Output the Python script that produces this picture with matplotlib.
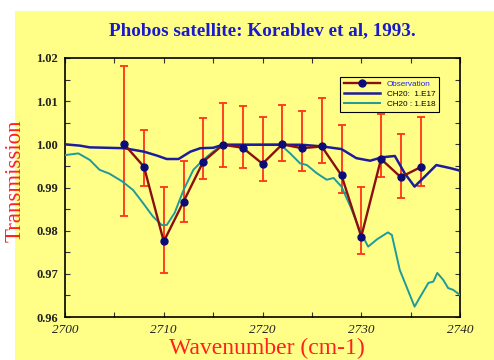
import matplotlib
matplotlib.use("Agg")
import matplotlib.pyplot as plt
from matplotlib.patches import Rectangle
from matplotlib.ticker import MultipleLocator

# Observed transmission (Phobos, Korablev et al. 1993)
obs_wavenumber = [2706, 2708, 2710, 2712, 2714, 2716, 2718, 2720,
                  2722, 2724, 2726, 2728, 2730, 2732, 2734, 2736]
obs_transmission = [1.0000, 0.9948, 0.9775, 0.9867, 0.9960, 0.9999, 0.9992, 0.9955,
                    1.0000, 0.9991, 0.9995, 0.9928, 0.9786, 0.9966, 0.9924, 0.9947]
obs_upper = [1.0182, 1.0033, 0.9902, 0.9962, 1.0062, 1.0095, 1.0089, 1.0063,
             1.0091, 1.0077, 1.0108, 1.0045, 0.9902, 1.0070, 1.0024, 1.0063]
obs_lower = [0.9833, 0.9904, 0.9703, 0.9820, 0.9919, 0.9947, 0.9945, 0.9914,
             0.9962, 0.9939, 0.9956, 0.9888, 0.9746, 0.9924, 0.9875, 0.9904]

# Model spectrum, CH2O column 1.E17
m17_wavenumber = [2700, 2701.5, 2702.5, 2706, 2708, 2709.3, 2710.3, 2711.5, 2712.7,
                  2713.7, 2715, 2716, 2720, 2724, 2726.1, 2728, 2729.5, 2730.9,
                  2732.1, 2733.4, 2734.4, 2735.4, 2736.6, 2737.6, 2739, 2740]
m17_transmission = [1.0000, 0.9997, 0.9993, 0.9991, 0.9983, 0.9974, 0.9966, 0.9966, 0.9983,
                    0.9991, 0.9992, 0.9999, 0.9999, 0.9999, 0.9995, 0.9989, 0.9968, 0.9962,
                    0.9970, 0.9973, 0.9933, 0.9902, 0.9929, 0.9952, 0.9945, 0.9939]

# Model spectrum, CH2O column 1.E18
m18_wavenumber = [2700, 2701.35, 2702.5, 2703.5, 2704.5, 2705.8, 2706.9, 2707.9, 2708.9,
                  2709.8, 2710.3, 2711.1, 2712.0, 2713.0, 2714.0, 2715.0, 2716.0, 2721.8,
                  2722.8, 2723.8, 2724.5, 2725.5, 2726.5, 2727.2, 2728.0, 2728.9, 2729.9,
                  2730.7, 2731.6, 2732.7, 2733.1, 2733.9, 2735.4, 2735.9, 2736.8, 2737.3,
                  2737.7, 2738.3, 2738.8, 2739.3, 2740]
m18_transmission = [0.9975, 0.9979, 0.9964, 0.9941, 0.9932, 0.9914, 0.9894, 0.9864, 0.9833,
                    0.9813, 0.9813, 0.9841, 0.9894, 0.9941, 0.9964, 0.9983, 0.9999, 1.0000,
                    0.9979, 0.9956, 0.9952, 0.9933, 0.9918, 0.9922, 0.9902, 0.9856, 0.9798,
                    0.9763, 0.9780, 0.9796, 0.9790, 0.9709, 0.9624, 0.9644, 0.9679, 0.9682,
                    0.9702, 0.9686, 0.9667, 0.9663, 0.9651]

x_ticks = [2700, 2710, 2720, 2730, 2740]
y_ticks = [0.96, 0.97, 0.98, 0.99, 1.00, 1.01, 1.02]

BG = "#ffff88"
SERIF = "Liberation Serif"

fig = plt.figure(figsize=(4.94, 3.60), dpi=100, facecolor="white")
fig.patches.append(Rectangle((15 / 494, 0), 1 - 15 / 494, 1 - 11 / 360,
                             transform=fig.transFigure, facecolor=BG,
                             edgecolor="none", zorder=-10))

ax = fig.add_axes([65 / 494, 1 - 317 / 360, 395 / 494, 259 / 360])
ax.set_facecolor(BG)

# error bars behind the curves
err_low = [v - lo for v, lo in zip(obs_transmission, obs_lower)]
err_high = [hi - v for v, hi in zip(obs_transmission, obs_upper)]
ax.errorbar(obs_wavenumber, obs_transmission, yerr=[err_low, err_high],
            fmt="none", ecolor="#ff3318", elinewidth=1.3, capsize=3.2,
            capthick=1.3, zorder=2)

ax.plot(m18_wavenumber, m18_transmission, color="#1f9a9a", lw=1.4,
        label="CH20 : 1.E18", zorder=3)
ax.plot(m17_wavenumber, m17_transmission, color="#1c1c9c", lw=1.8,
        label="CH20:  1.E17", zorder=4)
ax.plot(obs_wavenumber, obs_transmission, color="#8b0f0f", lw=1.7,
        marker="o", markersize=5, markerfacecolor="#0c0c78",
        markeredgecolor="#0c0c78", label="Observation", zorder=5)

ax.set_xlim(2700, 2740)
ax.set_ylim(0.96, 1.02)
ax.set_xticks(x_ticks)
ax.set_yticks(y_ticks)
ax.set_yticklabels([f"{v:.2f}" for v in y_ticks])
ax.xaxis.set_minor_locator(MultipleLocator(5))
ax.yaxis.set_minor_locator(MultipleLocator(0.005))
ax.tick_params(which="both", direction="in", top=True, right=True,
               length=3.5, width=0.8, color="#333333")
ax.tick_params(axis="y", labelsize=9, pad=5)
ax.tick_params(axis="x", labelsize=9.5, pad=5)
for lab in ax.get_yticklabels():
    lab.set_fontfamily(SERIF)
    lab.set_fontweight("bold")
    lab.set_color("#222222")
for lab in ax.get_xticklabels():
    lab.set_fontfamily(SERIF)
    lab.set_fontstyle("italic")
    lab.set_color("#222222")
for sp in ax.spines.values():
    sp.set_linewidth(1.2)
    sp.set_color("black")

# legend: observation first, then the two model columns
handles, labels = ax.get_legend_handles_labels()
order = [2, 1, 0]
leg = ax.legend([handles[i] for i in order], [labels[i] for i in order],
                loc="upper left", bbox_to_anchor=(0.696, 0.927),
                borderaxespad=0, fancybox=False, frameon=True,
                facecolor=BG, edgecolor="black", framealpha=1,
                prop={"family": "Liberation Sans", "size": 5.9},
                handlelength=4.5, labelspacing=0.25, borderpad=0.45,
                handletextpad=0.8)
leg.get_frame().set_linewidth(0.8)
leg.get_texts()[0].set_color("#2020ff")

fig.text(262 / 494, 1 - 31 / 360, "Phobos satellite: Korablev et al, 1993.",
         ha="center", va="center", color="#1a1acc", fontfamily=SERIF,
         fontweight="bold", fontsize=13.8)
fig.text(15 / 494, 1 - 181 / 360, "Transmission", rotation=90,
         ha="center", va="center", color="#ff2020", fontfamily=SERIF,
         fontsize=16.5)
fig.text(267 / 494, 1 - 348 / 360, "Wavenumber (cm-1)",
         ha="center", va="center", color="#ff2020", fontfamily=SERIF,
         fontsize=17)

fig.savefig("out.png", dpi=100, facecolor="white")
